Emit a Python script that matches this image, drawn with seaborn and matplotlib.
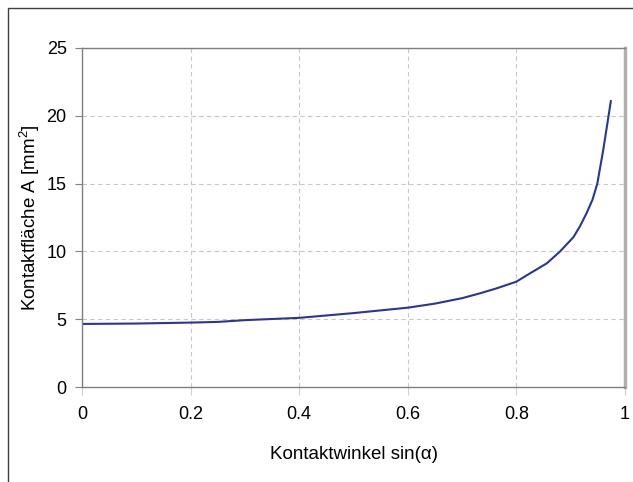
import matplotlib
matplotlib.use("Agg")
import matplotlib.pyplot as plt
import pandas as pd
import seaborn as sns
from matplotlib.patches import Rectangle

# values
sin_alpha = [0.0, 0.1, 0.2, 0.25, 0.3, 0.4, 0.5, 0.6, 0.65, 0.7, 0.733, 0.764,
             0.8, 0.825, 0.856, 0.88, 0.905, 0.917, 0.929, 0.94, 0.949, 0.96,
             0.974]
area_mm2 = [4.65, 4.68, 4.75, 4.8, 4.93, 5.1, 5.45, 5.85, 6.15, 6.55, 6.91, 7.28,
            7.77, 8.38, 9.12, 9.98, 11.05, 11.85, 12.8, 13.8, 15.0, 17.5,
            21.1]

xticks = [0, 0.2, 0.4, 0.6, 0.8, 1]
xticklabels = ["0", "0.2", "0.4", "0.6", "0.8", "1"]
yticks = [0, 5, 10, 15, 20, 25]

df = pd.DataFrame({"sin": sin_alpha, "A": area_mm2})

sns.set_theme(style="white")
plt.rcParams["font.family"] = ["Liberation Sans", "DejaVu Sans"]
plt.rcParams["mathtext.fontset"] = "custom"
plt.rcParams["mathtext.rm"] = "Liberation Sans"
plt.rcParams["mathtext.it"] = "Liberation Sans"
plt.rcParams["text.color"] = "black"
plt.rcParams["axes.labelcolor"] = "black"
plt.rcParams["xtick.labelcolor"] = "black"
plt.rcParams["ytick.labelcolor"] = "black"

fig = plt.figure(figsize=(6.33, 4.82), dpi=100)
W, H = 633, 482
ax = fig.add_axes([82 / W, 1 - 387 / H, (625 - 82) / W, (387 - 48) / H])

sns.lineplot(data=df, x="sin", y="A", ax=ax, color="#2B3595", linewidth=1.5)

ax.set_xlim(0, 1)
ax.set_ylim(0, 25)
ax.set_xticks(xticks)
ax.set_xticklabels(xticklabels)
ax.set_yticks(yticks)
ax.grid(True, linestyle=(0, (4, 3)), color="#c8c8c8", linewidth=0.8)
ax.set_axisbelow(True)

for side in ["left", "bottom", "top"]:
    ax.spines[side].set_color("#808080")
    ax.spines[side].set_linewidth(1.0)
ax.spines["right"].set_color("#b0b0b0")
ax.spines["right"].set_linewidth(2.5)

ax.tick_params(axis="y", direction="out", length=5, width=0.8, color="#808080",
               labelsize=13, pad=6, left=True, labelcolor="black")
ax.tick_params(axis="x", direction="out", length=6, width=0.8, color="#d0d0d0",
               labelsize=13, pad=8, bottom=True, labelcolor="black")

ax.set_xlabel("Kontaktwinkel sin(α)", fontsize=13.5, labelpad=16, color="black")
ax.set_ylabel("Kontaktfläche A [mm$^\\mathrm{2}$]", fontsize=13.5, labelpad=3,
              color="black")

# outer frame
fig.patches.append(Rectangle((8 / W, -0.1), 1.2, 1 - 8 / H + 0.1,
                             transform=fig.transFigure, fill=False,
                             edgecolor="#404040", linewidth=1.0))

fig.savefig("out.png", dpi=100)
